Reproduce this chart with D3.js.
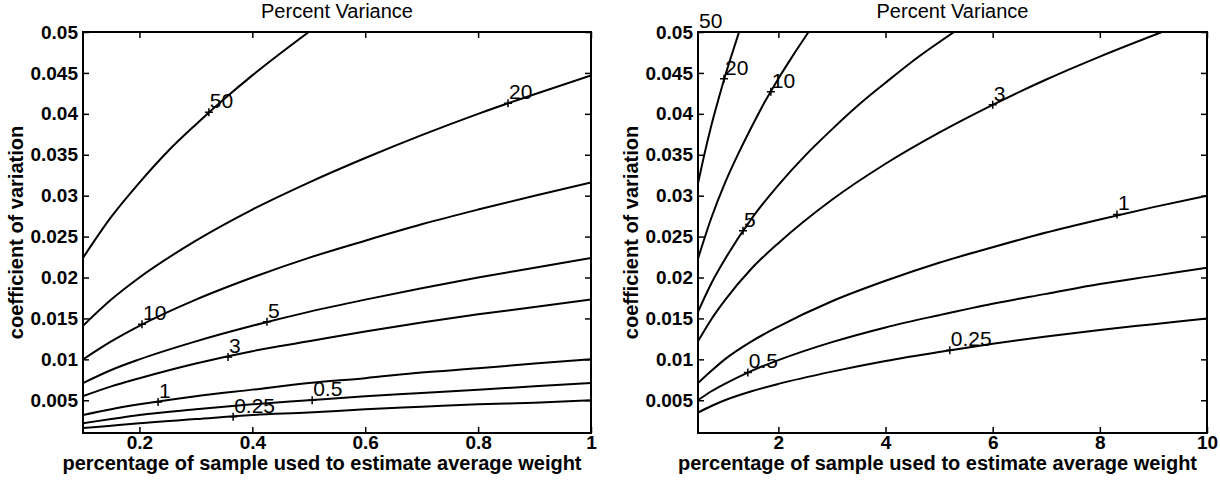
<!DOCTYPE html>
<html lang="en">
	<head>
		<meta charset="utf-8">
		<title>Percent Variance</title>
		<script type="text/javascript" src="https://d3js.org/d3.v7.min.js"></script>
		<style type="text/css">
			body { margin: 0; background: #fff; }
			text { font-family: "Liberation Sans", Arial, sans-serif; fill: #000; }
			.tick text { font-size: 19px; font-weight: bold; }
			.tick line { stroke: #000; stroke-width: 1.5px; }
			.domain { display: none; }
			.frame { fill: none; stroke: #000; stroke-width: 2px; }
			.contour { fill: none; stroke: #000; stroke-width: 2px; }
			.plus { stroke: #000; stroke-width: 1.5px; }
			.clabel { font-size: 21px; }
			.title { font-size: 20px; }
			.axlabel { font-size: 20px; font-weight: bold; }
		</style>
	</head>
	<body>
		<script type="text/javascript">

			var w = 1220;
			var h = 480;

			// contour lines: [percent of sample, coefficient of variation]
			var left50 = [[0.1,0.0224],[0.15,0.0274],[0.2,0.0316],[0.25,0.0354],[0.3,0.0387],[0.35,0.0418],[0.4,0.0447],[0.45,0.0474],[0.5,0.05]];
			var left20 = [[0.1,0.0141],[0.15,0.0173],[0.2,0.0200],[0.3,0.0245],[0.4,0.0283],[0.5,0.0316],[0.6,0.0346],[0.7,0.0374],[0.8,0.0400],[0.9,0.0424],[1,0.0447]];
			var left10 = [[0.1,0.0100],[0.15,0.0122],[0.2,0.0141],[0.3,0.0173],[0.4,0.0200],[0.5,0.0224],[0.6,0.0245],[0.7,0.0265],[0.8,0.0283],[0.9,0.0300],[1,0.0316]];
			var left5 = [[0.1,0.0071],[0.15,0.0087],[0.2,0.0100],[0.3,0.0122],[0.4,0.0141],[0.5,0.0158],[0.6,0.0173],[0.7,0.0187],[0.8,0.0200],[0.9,0.0212],[1,0.0224]];
			var left3 = [[0.1,0.0055],[0.15,0.0067],[0.2,0.0077],[0.3,0.0095],[0.4,0.0110],[0.5,0.0122],[0.6,0.0134],[0.7,0.0145],[0.8,0.0155],[0.9,0.0164],[1,0.0173]];
			var left1 = [[0.1,0.0032],[0.15,0.0039],[0.2,0.0045],[0.3,0.0055],[0.4,0.0063],[0.5,0.0071],[0.6,0.0077],[0.7,0.0084],[0.8,0.0089],[0.9,0.0095],[1,0.0100]];
			var left05 = [[0.1,0.0022],[0.15,0.0027],[0.2,0.0032],[0.3,0.0039],[0.4,0.0045],[0.5,0.0050],[0.6,0.0055],[0.7,0.0059],[0.8,0.0063],[0.9,0.0067],[1,0.0071]];
			var left025 = [[0.1,0.0016],[0.15,0.0019],[0.2,0.0022],[0.3,0.0027],[0.4,0.0032],[0.5,0.0035],[0.6,0.0039],[0.7,0.0042],[0.8,0.0045],[0.9,0.0047],[1,0.0050]];

			// same for the right plot
			var right20 = [[0.5,0.0315],[0.6,0.0345],[0.75,0.0386],[0.9,0.0422],[1,0.0445],[1.1,0.0466],[1.266,0.05]];
			var right10 = [[0.5,0.0223],[0.75,0.0273],[1,0.0315],[1.25,0.0351],[1.5,0.0384],[1.75,0.0415],[2,0.0443],[2.25,0.0469],[2.564,0.05]];
			var right5 = [[0.5,0.0158],[0.75,0.0193],[1,0.0222],[1.5,0.0272],[2,0.0313],[2.5,0.0349],[3,0.0381],[3.5,0.0411],[4,0.0438],[4.5,0.0464],[5.28,0.05]];
			var right3 = [[0.5,0.0122],[0.75,0.0149],[1,0.0172],[1.5,0.0211],[2,0.0242],[3,0.0295],[4,0.0339],[5,0.0377],[6,0.0411],[7,0.0442],[8,0.0470],[9.16,0.05]];
			var right1 = [[0.5,0.0071],[0.75,0.0086],[1,0.0100],[1.5,0.0122],[2,0.0140],[3,0.0171],[4,0.0196],[5,0.0218],[6,0.0237],[7,0.0255],[8,0.0271],[9,0.0286],[10,0.0300]];
			var right05 = [[0.5,0.0050],[0.75,0.0061],[1,0.0070],[1.5,0.0086],[2,0.0099],[3,0.0121],[4,0.0139],[5,0.0154],[6,0.0168],[7,0.0180],[8,0.0192],[9,0.0202],[10,0.0212]];
			var right025 = [[0.5,0.0035],[0.75,0.0043],[1,0.0050],[1.5,0.0061],[2,0.0070],[3,0.0085],[4,0.0098],[5,0.0109],[6,0.0119],[7,0.0128],[8,0.0136],[9,0.0143],[10,0.0150]];

			// contour labels (text, x, y)
			var leftLabelText = ["50","20","10","5","3","1","0.5","0.25"];
			var leftLabelX = [0.323,0.853,0.2045,0.426,0.357,0.233,0.506,0.366];
			var leftLabelY = [0.0402,0.0413,0.0143,0.0146,0.0103,0.0048,0.0050,0.0030];

			var rightLabelText = ["50","20","10","5","3","1","0.5","0.25"];
			var rightLabelX = [0.5,0.985,1.86,1.34,6.0,8.32,1.43,5.2];
			var rightLabelY = [0.05,0.0443,0.0427,0.0257,0.0411,0.0277,0.0084,0.0111];

			var leftXTicks = [0.2,0.4,0.6,0.8,1];
			var rightXTicks = [2,4,6,8,10];
			var yTicks = [0.005,0.01,0.015,0.02,0.025,0.03,0.035,0.04,0.045,0.05];

			var svg = d3.select("body")
						.append("svg")
						.attr("width", w)
						.attr("height", h);

			function drawPanel(opt){
				var pw = opt.right - opt.left;
				var ph = opt.bottom - opt.top;

				var x = d3.scaleLinear().domain(opt.xDomain).range([0, pw]);
				var y = d3.scaleLinear().domain([0.001, 0.05]).range([ph, 0]);

				var g = svg.append("g")
							.attr("transform", "translate(" + opt.left + "," + opt.top + ")");

				g.append("clipPath")
					.attr("id", opt.id)
					.append("rect")
					.attr("width", pw)
					.attr("height", ph);

				var line = d3.line()
							.x(function(d){ return x(d[0]); })
							.y(function(d){ return y(d[1]); })
							.curve(d3.curveMonotoneX);

				g.append("g")
					.attr("clip-path", "url(#" + opt.id + ")")
					.selectAll("path")
					.data(opt.curves)
					.enter()
					.append("path")
					.attr("class", "contour")
					.attr("d", line);

				// ticks point inwards on all four sides
				g.append("g")
					.attr("transform", "translate(0," + ph + ")")
					.call(d3.axisBottom(x).tickValues(opt.xTicks).tickSize(-6).tickSizeOuter(0).tickPadding(2)
						.tickFormat(function(d){ return String(d); }));
				g.append("g")
					.call(d3.axisTop(x).tickValues(opt.xTicks).tickSize(-6).tickSizeOuter(0).tickFormat(""));
				g.append("g")
					.call(d3.axisLeft(y).tickValues(yTicks).tickSize(-6).tickSizeOuter(0).tickPadding(5)
						.tickFormat(function(d){ return String(+d.toFixed(3)); }));
				g.append("g")
					.attr("transform", "translate(" + pw + ",0)")
					.call(d3.axisRight(y).tickValues(yTicks).tickSize(-6).tickSizeOuter(0).tickFormat(""));

				g.selectAll(".tick text").attr("fill", "#000");

				g.append("rect")
					.attr("class", "frame")
					.attr("width", pw)
					.attr("height", ph);

				// contour labels with their + marks
				var labels = g.selectAll(".lab")
								.data(opt.labelText)
								.enter()
								.append("g")
								.attr("class", "lab")
								.attr("transform", function(d, i){
									return "translate(" + x(opt.labelX[i]) + "," + y(opt.labelY[i]) + ")";
								});
				labels.filter(function(d){ return d != "50" || opt.id != "clipR"; })
					.append("path")
					.attr("class", "plus")
					.attr("d", "M-4,0H4M0,-4V4");
				labels.append("text")
					.attr("class", "clabel")
					.attr("x", 1)
					.attr("y", -4)
					.text(function(d){ return d; });

				svg.append("text")
					.attr("class", "title")
					.attr("x", opt.left + pw / 2)
					.attr("y", 18)
					.attr("text-anchor", "middle")
					.text("Percent Variance");

				svg.append("text")
					.attr("class", "axlabel")
					.attr("x", opt.left + pw / 2 - 15)
					.attr("y", 470)
					.attr("text-anchor", "middle")
					.text("percentage of sample used to estimate average weight");

				svg.append("text")
					.attr("class", "axlabel")
					.attr("transform", "translate(" + (opt.left - 60) + "," + (opt.top + ph / 2) + ") rotate(-90)")
					.attr("text-anchor", "middle")
					.text("coefficient of variation");
			}

			drawPanel({
				id: "clipL", left: 83, right: 591, top: 32, bottom: 433,
				xDomain: [0.1, 1], xTicks: leftXTicks,
				curves: [left50, left20, left10, left5, left3, left1, left05, left025],
				labelText: leftLabelText, labelX: leftLabelX, labelY: leftLabelY
			});

			drawPanel({
				id: "clipR", left: 698, right: 1207, top: 32, bottom: 433,
				xDomain: [0.5, 10], xTicks: rightXTicks,
				curves: [right20, right10, right5, right3, right1, right05, right025],
				labelText: rightLabelText, labelX: rightLabelX, labelY: rightLabelY
			});

		</script>
	</body>
</html>
